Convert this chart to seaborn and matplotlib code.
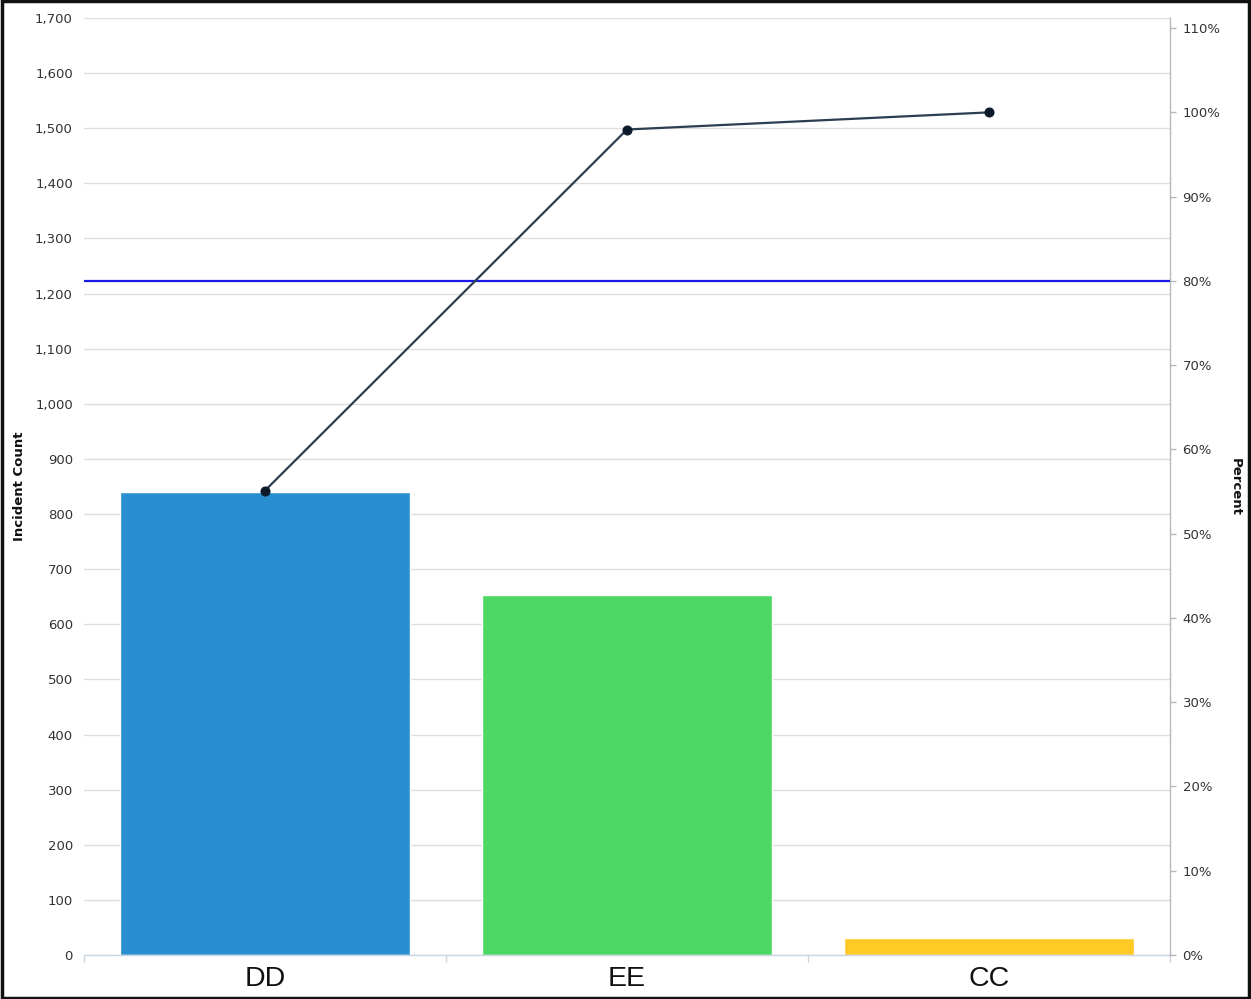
import numpy as np
import pandas as pd
import matplotlib
matplotlib.use("Agg")
import matplotlib.pyplot as plt
from matplotlib.ticker import FuncFormatter, FixedLocator
from matplotlib.patches import Rectangle
import seaborn as sns

# Incident counts per category (sorted descending, Pareto order)
categories = ["DD", "EE", "CC"]
incident_counts = [840, 653, 31]
bar_colors = ["#2a8fd0", "#4dd865", "#ffc926"]
threshold_pct = 80
count_ticks = list(range(0, 1701, 100))
pct_ticks = list(range(0, 111, 10))

counts = np.array(incident_counts, dtype=float)
cum_pct = np.cumsum(counts) / counts.sum() * 100

df = pd.DataFrame({"category": categories, "count": incident_counts,
                   "cum_pct": cum_pct, "pos": np.arange(len(categories))})

sns.set_theme(style="white")
plt.rcParams["font.family"] = ["DejaVu Sans"]

fig = plt.figure(figsize=(12.51, 9.99), dpi=100)
ax = fig.add_axes([84 / 1251, 1 - 955 / 999, (1170 - 84) / 1251, (955 - 18) / 999])

sns.barplot(data=df, x="category", y="count", hue="category", palette=bar_colors,
            width=0.8, legend=False, ax=ax, saturation=1, zorder=2)

ax.set_xlim(-0.5, len(categories) - 0.5)
ax.set_ylim(0, 1700)
ax.yaxis.set_major_locator(FixedLocator(count_ticks))
ax.yaxis.set_major_formatter(FuncFormatter(lambda v, p: f"{int(v):,}"))
ax.grid(axis="y", color="#dedede", linewidth=1.0, zorder=0)
ax.set_axisbelow(True)
for s in ["left", "top", "right"]:
    ax.spines[s].set_visible(False)
ax.spines["bottom"].set_color("#c9d5e2")
ax.spines["bottom"].set_linewidth(1.0)
ax.tick_params(axis="y", length=0, pad=8, labelsize=9.5, labelcolor="#333333")
ax.tick_params(axis="x", which="major", length=0, pad=8, labelsize=20.5, labelcolor="#111111")
ax.set_xticks(np.arange(len(categories)))
ax.set_xticklabels(categories, fontfamily="Liberation Sans")
ax.xaxis.set_minor_locator(FixedLocator(np.arange(len(categories) + 1) - 0.5))
ax.tick_params(axis="x", which="minor", length=5, width=1, color="#c9d5e2", bottom=True)
ax.set_xlabel("")
ax.set_ylabel("Incident Count", fontsize=9.5, fontweight="bold", color="#111111")
ax.yaxis.set_label_coords(-0.053, 0.5)

# Cumulative percentage on the secondary axis
ax2 = ax.twinx()
ax2.set_ylim(0, 111.2)
ax2.axhline(threshold_pct, color="#1a1ae6", linewidth=1.6, zorder=3)
sns.lineplot(data=df, x="pos", y="cum_pct", ax=ax2, color="#2c3e50", linewidth=1.6,
             marker="o", markersize=6.5, markerfacecolor="#0d1a2b",
             markeredgecolor="#0d1a2b", zorder=4)
ax2.set_xlim(-0.5, len(categories) - 0.5)
ax2.yaxis.set_major_locator(FixedLocator(pct_ticks))
ax2.yaxis.set_major_formatter(FuncFormatter(lambda v, p: f"{int(v)}%"))
for s in ["left", "top", "bottom"]:
    ax2.spines[s].set_visible(False)
ax2.spines["right"].set_color("#b8b8b8")
ax2.spines["right"].set_linewidth(1.0)
ax2.tick_params(axis="y", length=4, width=1, color="#b8b8b8", pad=5,
                labelsize=9.5, labelcolor="#333333")
ax2.set_xlabel("")
ax2.set_ylabel("Percent", rotation=270, fontsize=9.5, fontweight="bold", color="#111111")
ax2.yaxis.set_label_coords(1.066, 0.5)
ax2.grid(False)

# Frame around the whole figure
fig.patches.append(Rectangle((0.0015, 0.0015), 0.997, 0.997, transform=fig.transFigure,
                             fill=False, edgecolor="#111111", linewidth=2.5))

fig.savefig("out.png", dpi=100)
